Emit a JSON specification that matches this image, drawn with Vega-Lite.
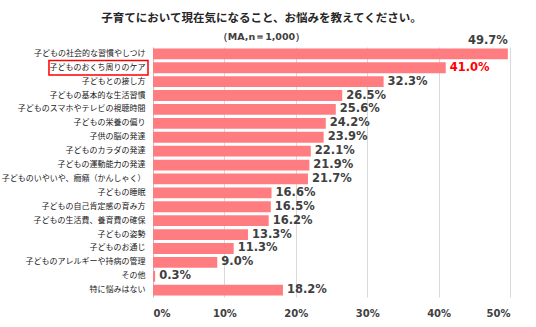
{
  "$schema": "https://vega.github.io/schema/vega-lite/v6.json",
  "width": 357,
  "height": 250,
  "autosize": "none",
  "padding": {"left": 153, "top": 47, "right": 26, "bottom": 30},
  "background": "white",
  "title": {
    "text": "子育てにおいて現在気になること、お悩みを教えてください。",
    "subtitle": "（MA,n＝1,000）",
    "anchor": "middle",
    "dx": -70,
    "offset": -7,
    "font": "Noto Sans CJK JP",
    "fontSize": 11.5,
    "fontWeight": "bold",
    "color": "#262626",
    "subtitleFont": "DejaVu Sans",
    "subtitleFontSize": 9.5,
    "subtitleFontWeight": "bold",
    "subtitleColor": "#404040",
    "subtitlePadding": 8
  },
  "config": {"view": {"stroke": null}},
  "datasets": {
    "main": [
      {"cat": "子どもの社会的な習慣やしつけ", "value": 0.497},
      {"cat": "子どものおくち周りのケア", "value": 0.410},
      {"cat": "子どもとの接し方", "value": 0.323},
      {"cat": "子どもの基本的な生活習慣", "value": 0.265},
      {"cat": "子どものスマホやテレビの視聴時間", "value": 0.256},
      {"cat": "子どもの栄養の偏り", "value": 0.242},
      {"cat": "子供の脳の発達", "value": 0.239},
      {"cat": "子どものカラダの発達", "value": 0.221},
      {"cat": "子どもの運動能力の発達", "value": 0.219},
      {"cat": "子どものいやいや、癇癪（かんしゃく）", "value": 0.217},
      {"cat": "子どもの睡眠", "value": 0.166},
      {"cat": "子どもの自己肯定感の育み方", "value": 0.165},
      {"cat": "子どもの生活費、養育費の確保", "value": 0.162},
      {"cat": "子どもの姿勢", "value": 0.133},
      {"cat": "子どものお通じ", "value": 0.113},
      {"cat": "子どものアレルギーや持病の管理", "value": 0.090},
      {"cat": "その他", "value": 0.003},
      {"cat": "特に悩みはない", "value": 0.182}
    ],
    "box": [
      {"cat": "子どものおくち周りのケア", "x1": -0.1457, "x2": -0.007}
    ]
  },
  "encoding": {
    "y": {
      "field": "cat",
      "type": "nominal",
      "sort": null,
      "scale": {"paddingInner": 0.22, "paddingOuter": 0.1},
      "axis": {
        "title": null,
        "domain": true,
        "domainColor": "#bfbfbf",
        "ticks": false,
        "labelFont": "Noto Sans CJK JP",
        "labelFontSize": 8,
        "labelColor": "#1a1a1a",
        "labelPadding": 8,
        "labelLimit": 200
      }
    }
  },
  "layer": [
    {
      "data": {"name": "main"},
      "mark": {"type": "bar", "color": "#ff7c80"},
      "encoding": {
        "x": {
          "field": "value",
          "type": "quantitative",
          "scale": {"domain": [0, 0.5]},
          "axis": {
            "title": null,
            "format": ".0%",
            "values": [0, 0.1, 0.2, 0.3, 0.4, 0.5],
            "domain": false,
            "ticks": false,
            "grid": true,
            "gridColor": "#d9d9d9",
            "labelFont": "DejaVu Sans",
            "labelFontSize": 10,
            "labelFontWeight": "bold",
            "labelColor": "#404040",
            "labelPadding": 11
          }
        }
      }
    },
    {
      "data": {"name": "main"},
      "transform": [{"filter": "datum.value < 0.45"}],
      "mark": {"type": "text", "align": "left", "dx": 4, "font": "DejaVu Sans", "fontSize": 11.5, "fontWeight": "bold"},
      "encoding": {
        "x": {"field": "value", "type": "quantitative"},
        "text": {"field": "value", "type": "quantitative", "format": ".1%"},
        "color": {
          "condition": {"test": "datum.cat === '子どものおくち周りのケア'", "value": "#ff0000"},
          "value": "#404040"
        }
      }
    },
    {
      "data": {"name": "main"},
      "transform": [{"filter": "datum.value >= 0.45"}],
      "mark": {"type": "text", "align": "right", "dy": -13, "font": "DejaVu Sans", "fontSize": 11.5, "fontWeight": "bold", "color": "#404040"},
      "encoding": {
        "x": {"field": "value", "type": "quantitative"},
        "text": {"field": "value", "type": "quantitative", "format": ".1%"}
      }
    },
    {
      "data": {"name": "box"},
      "mark": {"type": "rect", "fill": null, "stroke": "#ff0000", "strokeWidth": 1.5, "height": {"band": 1.35}, "clip": false},
      "encoding": {
        "x": {"field": "x1", "type": "quantitative"},
        "x2": {"field": "x2"}
      }
    }
  ]
}
